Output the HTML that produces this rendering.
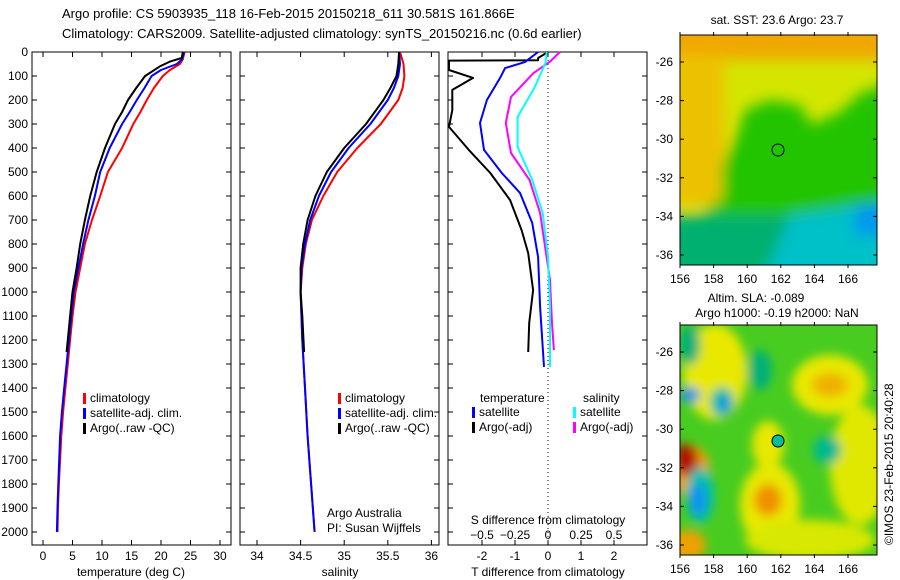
<!DOCTYPE html>
<html><head><meta charset="utf-8"><style>
body{margin:0;background:#fff;}
svg{display:block;font-family:"Liberation Sans",sans-serif;font-size:12px;}
</style></head><body>
<svg id="c" width="900" height="580" viewBox="0 0 900 580">
<defs>
<clipPath id="m1c"><rect x="680" y="35" width="197" height="230"/></clipPath>
<clipPath id="m2c"><rect x="680" y="325" width="197" height="230"/></clipPath>
<filter id="bl" filterUnits="userSpaceOnUse" x="600" y="0" width="300" height="300"><feGaussianBlur stdDeviation="7"/></filter>
<filter id="bl2" filterUnits="userSpaceOnUse" x="600" y="290" width="300" height="290"><feGaussianBlur stdDeviation="5"/></filter>
</defs>
<text x="62" y="18" font-size="13">Argo profile: CS 5903935_118 16-Feb-2015 20150218_611 30.581S 161.866E</text>
<text x="62" y="38" font-size="13">Climatology: CARS2009. Satellite-adjusted climatology: synTS_20150216.nc (0.6d earlier)</text>

<!-- SST map -->
<g clip-path="url(#m1c)">
<rect x="680" y="35" width="197" height="230" fill="#d4e600"/>
<g filter="url(#bl)">
<rect x="660" y="15" width="240" height="45" fill="#f0a800"/>
<rect x="660" y="55" width="65" height="150" fill="#ecc200"/>
<polygon points="722,165 735,140 745,110 770,100 800,105 812,125 840,112 862,92 895,82 895,245 722,245" fill="#22c400"/>
<polygon points="700,215 718,200 740,190 760,195 700,270" fill="#22c400"/>
<rect x="660" y="215" width="240" height="70" fill="#00b070"/>
<polygon points="790,215 895,200 895,285 760,285 780,240" fill="#00c0c8"/>
<rect x="855" y="205" width="40" height="30" fill="#0098f0"/>
</g>
</g>
<rect x="680" y="35" width="197" height="230" fill="none" stroke="#000"/>
<circle cx="778" cy="150" r="6" fill="none" stroke="#000"/>
<text x="777" y="24" text-anchor="middle">sat. SST: 23.6 Argo: 23.7</text>

<!-- SLA map -->
<g clip-path="url(#m2c)">
<rect x="680" y="325" width="197" height="230" fill="#48cc20"/>
<g filter="url(#bl2)">
<ellipse cx="715" cy="372" rx="32" ry="48" fill="#e8e800"/>
<ellipse cx="830" cy="385" rx="38" ry="30" fill="#e8e800"/>
<ellipse cx="830" cy="385" rx="18" ry="12" fill="#f0b000"/>
<ellipse cx="768" cy="445" rx="16" ry="24" fill="#e8e800"/>
<ellipse cx="770" cy="505" rx="30" ry="42" fill="#e8e800"/>
<ellipse cx="768" cy="500" rx="14" ry="16" fill="#f09000"/>
<ellipse cx="860" cy="465" rx="30" ry="60" fill="#e0e800"/>
<ellipse cx="810" cy="540" rx="65" ry="20" fill="#d8e800"/>
<ellipse cx="690" cy="470" rx="20" ry="25" fill="#f0a000"/>
<ellipse cx="686" cy="460" rx="12" ry="16" fill="#b00800"/>
<ellipse cx="688" cy="545" rx="18" ry="15" fill="#f0a000"/>
<ellipse cx="722" cy="402" rx="12" ry="15" fill="#00c0a0"/>
<ellipse cx="724" cy="404" rx="6" ry="8" fill="#1090e8"/>
<ellipse cx="690" cy="395" rx="10" ry="8" fill="#1090e8"/>
<ellipse cx="700" cy="495" rx="14" ry="28" fill="#00c0b0"/>
<ellipse cx="698" cy="500" rx="8" ry="16" fill="#1090f0"/>
<ellipse cx="760" cy="370" rx="12" ry="20" fill="#00b078"/>
<ellipse cx="827" cy="450" rx="14" ry="14" fill="#00b890"/>
<ellipse cx="690" cy="345" rx="10" ry="20" fill="#00b078"/>
</g>
</g>
<rect x="680" y="325" width="197" height="230" fill="none" stroke="#000"/>
<circle cx="778" cy="441" r="6" fill="#00c0a0" stroke="#000"/>
<text x="756" y="302" text-anchor="middle">Altim. SLA: -0.089</text>
<text x="777" y="317" text-anchor="middle">Argo h1000: -0.19 h2000: NaN</text>
<text transform="translate(893,545) rotate(-90)">©IMOS 23-Feb-2015 20:40:28</text>

<g id="dyn"></g>
</svg>
<script>
// ---- data ----
const depthTicks=[0,100,200,300,400,500,600,700,800,900,1000,1100,1200,1300,1400,1500,1600,1700,1800,1900,2000];
const tempTicks=[0,5,10,15,20,25,30];
const salTicks=[34,34.5,35,35.5,36];
const tdiffTicks=[-2,-1,0,1,2];
const sdiffTicks=[-0.5,-0.25,0,0.25,0.5];
const latTicks=[-26,-28,-30,-32,-34,-36];
const lonTicks=[156,158,160,162,164,166];

const tClimZ=[0,30,50,75,100,150,200,250,300,400,500,600,700,800,900,1000,1100,1200,1300,1400,1500,1600,1700,1800,1900,2000];
const tClim=[24,23.7,23.2,21.5,20.3,18.8,17.6,16.5,15.3,13.4,11,9.7,8.3,7.1,6.3,5.5,5.0,4.6,4.2,3.8,3.4,3.1,2.9,2.7,2.55,2.45];
const tSatZ=[0,30,50,75,100,150,200,250,300,400,500,600,700,800,900,1000,1100,1200,1300,1400,1500,1600,1700,1800,1900,2000];
const tSat=[23.9,23.6,22.7,20,18.4,17.2,15.9,14.7,13.4,11.3,9.7,8.8,7.7,6.8,6.0,5.2,4.8,4.4,4.0,3.6,3.2,2.9,2.75,2.6,2.45,2.35];
const tArgoZ=[0,25,40,60,100,150,200,250,300,400,500,600,700,800,900,1000,1100,1200,1250];
const tArgo=[23.7,23.5,21.5,19.8,17.3,15.8,14.4,13.4,12.2,10.5,9.1,8.0,7.1,6.3,5.7,5.0,4.6,4.2,4.0];

const sClimZ=[0,50,100,150,200,300,400,500,600,700,800,900,1000,1200,1400,1600,1800,2000];
const sClim=[35.64,35.68,35.69,35.67,35.62,35.42,35.15,34.92,34.76,34.63,34.56,34.52,34.5,34.52,34.55,34.58,34.62,34.66];
const sSatZ=[0,50,100,150,200,300,400,500,600,700,800,900,1000,1200,1400,1600,1800,2000];
const sSat=[35.63,35.64,35.62,35.57,35.5,35.3,35.05,34.85,34.71,34.61,34.55,34.51,34.5,34.52,34.55,34.58,34.62,34.66];
const sArgoZ=[0,50,100,150,200,300,400,500,600,700,800,900,1000,1100,1250];
const sArgo=[35.63,35.62,35.6,35.53,35.45,35.25,35.0,34.8,34.67,34.58,34.53,34.5,34.5,34.52,34.54];

const dTsatZ=[0,42,67,108,200,296,408,504,587,712,854,1062,1312];
const dTsat=[-0.3,-0.7,-1.3,-1.45,-1.85,-2.06,-1.94,-1.4,-0.85,-0.48,-0.3,-0.24,-0.12];
const dTargoZ=[0,25,34,36,75,108,158,242,312,408,504,617,742,838,992,1129,1250];
const dTargo=[0,-0.3,-0.3,-3.0,-3.0,-2.27,-2.9,-2.9,-3.0,-2.4,-1.75,-1.15,-0.8,-0.6,-0.45,-0.57,-0.6];
const dSsatZ=[0,46,146,271,396,533,671,854,1062,1312];
const dSsat=[-0.01,-0.02,-0.1,-0.23,-0.23,-0.12,-0.04,0,0.015,0.015];
const dSargoZ=[0,40,88,187,296,421,533,671,838,950,1129,1242];
const dSargo=[0.09,0.015,-0.11,-0.28,-0.32,-0.28,-0.14,-0.06,-0.015,0.015,0.03,0.045];

// ---- axes ----
const yD=d=>52+d*0.24;
const xT=t=>43+t*5.9;
const xS=s=>257+(s-34)*87.2;
const xDT=t=>548+t*33;
const xDS=s=>548+s*132;
const lonX=l=>680+(l-156)*16.8;
const latY1=l=>62+(-26-l)*19.3;
const latY2=l=>352+(-26-l)*19.3;

const NS='http://www.w3.org/2000/svg';
const g=document.getElementById('dyn');
function mk(tag,attrs,parent){const e=document.createElementNS(NS,tag);for(const k in attrs)e.setAttribute(k,attrs[k]);(parent||g).appendChild(e);return e;}
function txt(x,y,s,anchor){const e=mk('text',{x:x,y:y,'text-anchor':anchor||'middle'});e.textContent=s;return e;}

const panels=[[32,231],[240,439],[448,647]];
panels.forEach((p,i)=>{
  const r=mk('rect',{x:p[0],y:52,width:p[1]-p[0],height:493,fill:'none',stroke:'#000'});
  
  
  depthTicks.forEach(d=>{
    const y=yD(d);
    const t1=mk('line',{x1:p[0],x2:p[0]+5,y1:y,y2:y,stroke:'#000'});
    
    
    const t2=mk('line',{x1:p[1]-5,x2:p[1],y1:y,y2:y,stroke:'#000'});
    
    
  });
});
depthTicks.forEach(d=>{
  const t=txt(28,yD(d)+4,String(d),'end');
  
  
});
function xticks(vals,fx,ylab){
  vals.forEach(v=>{
    const x=fx(v);
    const a=mk('line',{x1:x,x2:x,y1:52,y2:57,stroke:'#000'});
    
    
    const b=mk('line',{x1:x,x2:x,y1:540,y2:545,stroke:'#000'});
    
    
    if(ylab){const t=txt(x,ylab,String(v));
      
      }
  });
}
xticks(tempTicks,xT,560);
xticks(salTicks,xS,560);
xticks(tdiffTicks,xDT,560);
sdiffTicks.forEach(v=>{
  const t=txt(xDS(v),539,String(v).replace('-','\u2212'));
  
  
});
let t;
t=txt(131,576,'temperature (deg C)');
t=txt(340,576,'salinity');
t=txt(548,576,'T difference from climatology');
t=txt(548,524,'S difference from climatology');
t=txt(327,517,'Argo Australia','start');
t=txt(327,532,'PI: Susan Wijffels','start');

const zl=mk('line',{x1:548,x2:548,y1:52,y2:545,stroke:'#000','stroke-dasharray':'1,3'});



function series(zs,vs,fx,col,w,name){
  let pts=[];
  for(let i=0;i<zs.length;i++){
    pts.push(fx(vs[i]).toFixed(1)+','+yD(zs[i]).toFixed(1));
  }
  const e=mk('polyline',{points:pts.join(' '),fill:'none',stroke:col,'stroke-width':w,'stroke-linejoin':'round'});
  
  
}
series(tClimZ,tClim,xT,'#f00',2,'temp-climatology-line');
series(tSatZ,tSat,xT,'#00f',2,'temp-satellite-line');
series(tArgoZ,tArgo,xT,'#000',2,'temp-argo-line');
series(sClimZ,sClim,xS,'#f00',2,'sal-climatology-line');
series(sSatZ,sSat,xS,'#00f',2,'sal-satellite-line');
series(sArgoZ,sArgo,xS,'#000',2,'sal-argo-line');
series(dTargoZ,dTargo,xDT,'#000',2,'tdiff-argo-line');
series(dTsatZ,dTsat,xDT,'#00f',2,'tdiff-satellite-line');
series(dSargoZ,dSargo,xDS,'#f0f',2,'sdiff-argo-line');
series(dSsatZ,dSsat,xDS,'#0ff',2,'sdiff-satellite-line');

function legend(x,y,col,label){
  const m=mk('rect',{x:x,y:y-9,width:3,height:11,fill:col});
  
  
  const t=txt(x+7,y,label,'start');
  
  
}
const legLabels=['climatology','satellite-adj. clim.','Argo(..raw -QC)'];
const legCols=['#f00','#00f','#000'];
[83,338].forEach(x=>legLabels.forEach((l,i)=>legend(x,402+i*15,legCols[i],l)));
t=txt(480,402,'temperature','start');
t=txt(583,402,'salinity','start');
legend(472,416,'#00f','satellite');legend(472,431,'#000','Argo(-adj)');
legend(573,416,'#0ff','satellite');legend(573,431,'#f0f','Argo(-adj)');

// map ticks
[[latY1,283,35,265],[latY2,573,325,555]].forEach(m=>{
  latTicks.forEach(l=>{
    const y=m[0](l);
    const a=mk('line',{x1:680,x2:684,y1:y,y2:y,stroke:'#000'});
    const b=mk('line',{x1:873,x2:877,y1:y,y2:y,stroke:'#000'});
    const t=txt(673,y+4,String(l),'end');
  });
  lonTicks.forEach(l=>{
    const x=lonX(l);
    const a=mk('line',{x1:x,x2:x,y1:m[2]-3,y2:m[2]+1,stroke:'#000'});
    const b=mk('line',{x1:x,x2:x,y1:m[3]-1,y2:m[3]+3,stroke:'#000'});
    const t=txt(x,m[1],String(l));
  });
});
</script>
</body></html>
